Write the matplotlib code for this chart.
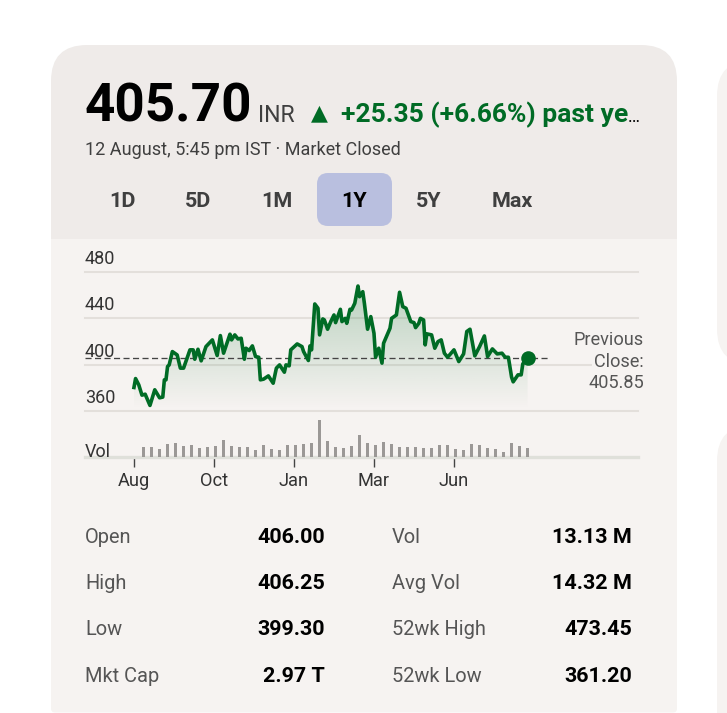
import numpy as np
import matplotlib
matplotlib.use("Agg")
import matplotlib.pyplot as plt
from matplotlib.patches import FancyBboxPatch, Rectangle, Polygon

W, H = 727, 713
plt.rcParams['font.family'] = ['Roboto', 'DejaVu Sans']

# ---- data ----
price_days = [0,1,3,5,7,10,13,16,18,19,20,21,22,24,27,29,31,35,37,38,40,42,45,49,52,54,56,60,61,63,65,67,69,70,72,74,76,78,79,81,84,87,89,91,94,95,97,98,102,105,106,109,110,111,113,115,116,118,119,121,123,125,126,129,130,132,133,135,136,138,140,141,143,144,146,148,150,151,153,155,156,160,161,164,166,168,170,173,175,176,178,179,181,182,183,186,188,190,192,194,196,200,203,206,208,210,213,216,219,221,224,227,230,232,234,236,237,240,242,243,246]
price_values = [380.3,388,382.6,373.7,374.5,364.8,378.3,371.4,372,386.9,386.9,398.4,399.8,411.3,408.4,397,397,412.8,412.8,404.7,413.3,403.3,415.6,421.4,407.9,425.1,409.9,426.3,421.4,425.7,422.2,422.8,404.7,414.2,412.2,416.2,407,406.4,386.9,387.5,390.3,384,397,399.8,393.5,399.8,399,412.8,417.9,415.6,411.3,403.6,416.2,412.8,452.4,448.7,425.7,439.5,438.6,430.6,437.2,442.9,436.3,447.8,437.2,440,435.7,447.8,447.2,453,467.9,458.7,463,453,430.6,441.5,427.1,406.4,414.2,401.3,418.5,431.4,440,442.9,462.5,450.1,448.7,437.2,436.3,432,435.7,440,438.6,417.1,426.6,425.7,414.2,419.9,421.4,409.9,406.4,412.8,402.7,409.3,428.6,430.6,407.6,415.6,424.8,407,413.6,409.3,409.9,406.4,406.4,389.2,385.2,391.2,391.2,400.7,405.6]
volume_values = [14.6,14.6,11.7,19.5,20.5,15.6,18,13.1,14.6,15.6,25.3,16.6,14.1,14.6,10.7,17,11.7,10.7,18,17.5,19.5,20.5,54.5,23.4,14.6,13.6,16.6,33.1,20.5,17.5,22.4,18.5,14.6,14.6,15.1,13.1,13.6,17.5,18,11.7,10.7,18.5,18,13.6,11.7,7.8,20.9,15.6,13.1]
volume_days = [6,11,16,21,26,31,36,41,46,51,56,61,66,71,76,81,86,91,96,101,106,111,116,121,126,131,136,141,146,151,156,161,166,171,176,181,186,191,196,201,206,211,216,221,226,231,236,241,246]
prev_close = 405.85
month_days = [0,50,100,150,200]
month_labels = ['Aug','Oct','Jan','Mar','Jun']
price_ticks = [480,440,400,360]
ranges = ['1D','5D','1M','1Y','5Y','Max']
left_names = ['Open','High','Low','Mkt Cap']
left_vals = ['406.00','406.25','399.30','2.97 T']
right_names = ['Vol','Avg Vol','52wk High','52wk Low']
right_vals = ['13.13 M','14.32 M','473.45','361.20']

GREEN = '#006b25'
DARK = '#3f3f3f'
HEAD = '#efebe9'
BODY = '#f6f3f1'
GRID = '#e3dfdb'

fig = plt.figure(figsize=(W/100, H/100), dpi=100, facecolor='white')

# pixel-space layers: bg under the chart, top over it
bg = fig.add_axes([0, 0, 1, 1], zorder=0)
bg.set_xlim(0, W); bg.set_ylim(H, 0); bg.axis('off')
top = fig.add_axes([0, 0, 1, 1], zorder=5)
top.set_xlim(0, W); top.set_ylim(H, 0); top.axis('off')

def round_box(ax, x0, y0, x1, y1, r, fc, **kw):
    p = FancyBboxPatch((x0+r, y0+r), x1-x0-2*r, y1-y0-2*r,
                       boxstyle=f"round,pad={r},rounding_size={r}", fc=fc, ec='none', **kw)
    ax.add_patch(p)
    return p

round_box(bg, 51, 300, 677, 712.5, 4, BODY)
head = round_box(bg, 51, 45, 677, 400, 36, HEAD)
head.set_clip_path(Rectangle((0, 0), W, 239, transform=bg.transData))
bg.add_patch(Rectangle((51, 239), 626, 70, fc=BODY, ec='none'))
round_box(bg, 717, 60, 900, 365, 36, BODY)
round_box(bg, 717, 425, 900, 800, 36, BODY)

def T(x, y, s, size, color='black', weight='normal', ha='left', va='baseline', ax=top, **kw):
    return ax.text(x, y, s, fontsize=size*0.72, color=color, fontweight=weight, ha=ha, va=va, **kw)

T(84.5, 122, '405.70', 53, 'black', 'bold')
T(258, 122, 'INR', 23, DARK)
T(311, 119.5, '▲', 22, GREEN)
T(341, 122, '+25.35 (+6.66%) past ye', 26.4, GREEN, 'bold')
T(628, 122, '…', 18, 'black')
T(85, 155, '12 August, 5:45 pm IST · Market Closed', 18, DARK)

round_box(bg, 317, 173, 392, 226, 11, '#b9bfdf')
for cx, r in zip([122, 198, 276.5, 354, 429, 512], ranges):
    T(cx, 207, r, 21.5, 'black' if r == '1Y' else DARK, 'bold', ha='center')

# chart axes
px_left, px_right = 85, 638
def pos(x0, y0, x1, y1):
    return [x0/W, 1-y1/H, (x1-x0)/W, (y1-y0)/H]

day_lim = (-30.6, 315)
ax = fig.add_axes(pos(px_left, 272, px_right, 411), zorder=2)
ax.patch.set_alpha(0)
ax.set_xlim(*day_lim); ax.set_ylim(360, 480)
for s in ax.spines.values(): s.set_visible(False)
ax.set_xticks([])
ax.set_yticks(price_ticks)
ax.tick_params(left=False, labelleft=False)
ax.grid(axis='y', color=GRID, lw=1.5, zorder=1, clip_on=False)
ax.set_axisbelow(True)
for g in ax.get_ygridlines(): g.set_clip_on(False)

days = np.array(price_days, float); vals = np.array(price_values)

grad = np.zeros((256, 2, 4))
grad[..., :3] = matplotlib.colors.to_rgb(GREEN)
grad[..., 3] = np.linspace(0.24, 0.0, 256)[:, None]
im = ax.imshow(grad, extent=[days[0], days[-1], 362, 468], origin='upper',
               aspect='auto', zorder=1.5, interpolation='bilinear')
poly = Polygon(np.r_[np.c_[days, vals], [[days[-1], 362], [days[0], 362]]],
               closed=True, transform=ax.transData, fc='none', ec='none')
ax.add_patch(poly)
im.set_clip_path(poly)
ax.set_xlim(*day_lim); ax.set_ylim(360, 480)

ax.plot(days, vals, color=GREEN, lw=2.6, solid_joinstyle='round', zorder=4, clip_on=False)
ax.plot([day_lim[0], 260], [prev_close]*2, color='#444444', lw=0.95, dashes=(4.6, 2.6), zorder=3, clip_on=False)
ax.plot(days[-1], vals[-1], 'o', color=GREEN, ms=10.5, mew=0, zorder=5, clip_on=False)

for v in price_ticks:
    y = ax.transData.transform((0, v))[1]
    ypx = bg.transData.inverted().transform((0, y))[1]
    T(85, ypx-8, str(v), 18, '#333333')

box = dict(fc=BODY, ec='none', pad=1.5)
T(644, 345, 'Previous', 18.2, '#555555', ha='right', bbox=box)
T(644, 367, 'Close:', 18.2, '#555555', ha='right', bbox=box)
T(644, 388, f'{prev_close:.2f}', 18.2, '#555555', ha='right', bbox=box)

# volume axes
vx = fig.add_axes(pos(px_left, 420, px_right, 457), zorder=2)
vx.patch.set_alpha(0)
vx.set_xlim(*day_lim); vx.set_ylim(0, 54.5)
for s in vx.spines.values(): s.set_visible(False)
vx.spines['bottom'].set_visible(True)
vx.spines['bottom'].set_color('#dfe0da'); vx.spines['bottom'].set_linewidth(2.4)
vx.set_yticks([])
vx.bar(volume_days, volume_values, width=2.1, color='#9b9896', zorder=3)
vx.set_xticks(month_days, month_labels, fontsize=18.3*0.72, color='#333333')
vx.tick_params(axis='x', length=7, width=1, color='#444444', pad=3.5)
T(85, 457, 'Vol', 18, '#333333')

# stats table
for i, y in enumerate([543, 589, 635, 682]):
    T(85, y, left_names[i], 20, '#555555')
    T(325, y, left_vals[i], 21.5, 'black', 'bold', ha='right')
    T(392, y, right_names[i], 20, '#555555')
    T(632, y, right_vals[i], 21.5, 'black', 'bold', ha='right')

fig.savefig('out.png', dpi=100, facecolor='white')
